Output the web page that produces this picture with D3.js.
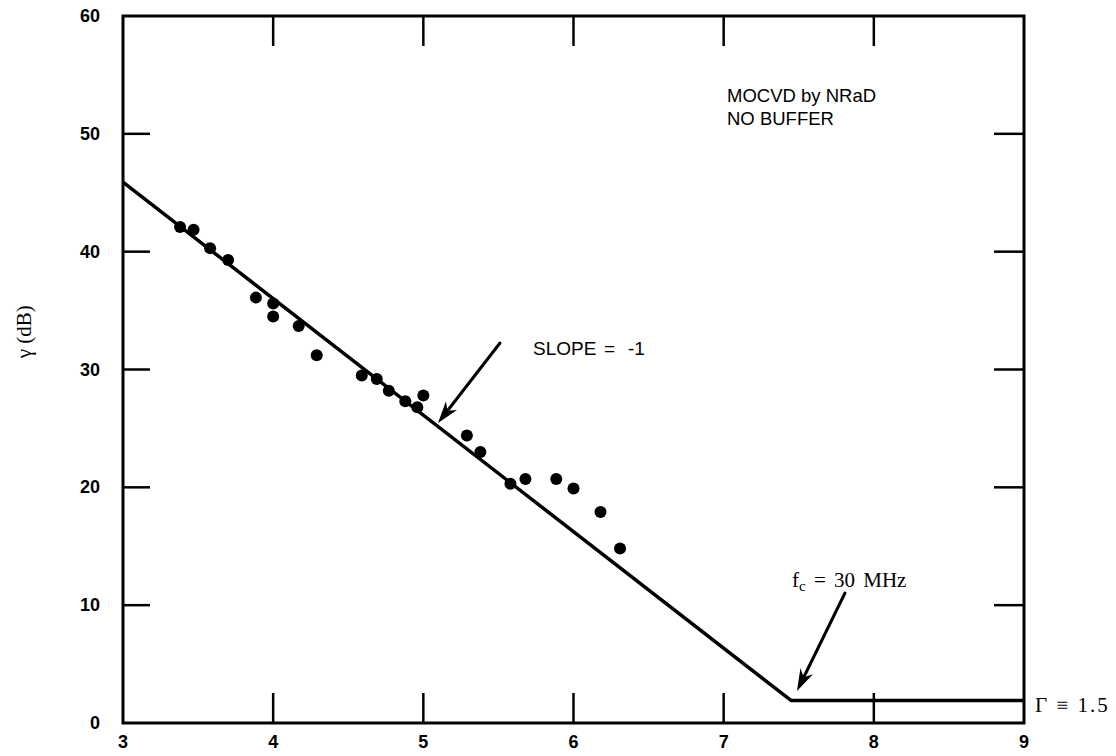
<!DOCTYPE html>
<html>
<head>
<meta charset="utf-8">
<script src="https://cdn.jsdelivr.net/npm/d3@7"></script>
<style>
  body { margin: 0; background: #fff; }
  svg { display: block; }
</style>
</head>
<body>
<svg id="chart"></svg>
<script>
// measured points (x, gamma dB)
const dataX = [3.38, 3.47, 3.58, 3.70, 3.885, 4.0, 4.0, 4.17, 4.29, 4.59, 4.69, 4.77, 4.88, 4.96, 5.0, 5.29, 5.38, 5.58, 5.68, 5.885, 6.0, 6.18, 6.31];
const dataY = [42.1, 41.85, 40.3, 39.3, 36.1, 35.6, 34.5, 33.7, 31.2, 29.5, 29.2, 28.2, 27.3, 26.8, 27.8, 24.4, 23.0, 20.3, 20.7, 20.7, 19.9, 17.9, 14.8];

// fitted line: slope segment then flat floor
const fitX = [3, 7.45, 9];
const fitY = [45.9, 1.9, 1.9];

const xTicks = [3, 4, 5, 6, 7, 8, 9];
const yTicks = [0, 10, 20, 30, 40, 50, 60];

const width = 1116, height = 756;
const margin = { top: 16, right: 92, bottom: 33, left: 123 };

const svg = d3.select("#chart")
  .attr("width", width)
  .attr("height", height);

const x = d3.scaleLinear().domain([3, 9]).range([margin.left, width - margin.right]);
const y = d3.scaleLinear().domain([0, 60]).range([height - margin.bottom, margin.top]);

const tickLen = 30;
const sans = "'Liberation Sans', Arial, sans-serif";
const serif = "'Liberation Serif', 'Times New Roman', serif";

// Frame
svg.append("rect")
  .attr("x", x(3)).attr("y", y(60))
  .attr("width", x(9) - x(3)).attr("height", y(0) - y(60))
  .attr("fill", "none").attr("stroke", "#000").attr("stroke-width", 3);

// Inner ticks on all four sides
const innerX = xTicks.filter(d => d > 3 && d < 9);
const innerY = yTicks.filter(d => d > 0 && d < 60);
const ticks = svg.append("g").attr("stroke", "#000").attr("stroke-width", 2.5);
ticks.selectAll(".tb").data(innerX).enter().append("line")
  .attr("x1", d => x(d)).attr("x2", d => x(d))
  .attr("y1", y(0)).attr("y2", y(0) - tickLen);
ticks.selectAll(".tt").data(innerX).enter().append("line")
  .attr("x1", d => x(d)).attr("x2", d => x(d))
  .attr("y1", y(60)).attr("y2", y(60) + tickLen);
ticks.selectAll(".tl").data(innerY).enter().append("line")
  .attr("x1", x(3)).attr("x2", x(3) + tickLen - 3)
  .attr("y1", d => y(d)).attr("y2", d => y(d));
ticks.selectAll(".tr").data(innerY).enter().append("line")
  .attr("x1", x(9)).attr("x2", x(9) - tickLen)
  .attr("y1", d => y(d)).attr("y2", d => y(d));

// Tick labels
svg.selectAll(".xl").data(xTicks).enter().append("text")
  .attr("x", d => x(d)).attr("y", y(0) + 25)
  .attr("text-anchor", "middle")
  .attr("font-family", sans).attr("font-weight", "bold").attr("font-size", 18)
  .text(d => d);
svg.selectAll(".yl").data(yTicks).enter().append("text")
  .attr("x", x(3) - 23).attr("y", d => y(d) + 6)
  .attr("text-anchor", "end")
  .attr("font-family", sans).attr("font-weight", "bold").attr("font-size", 18)
  .text(d => d);

// Y axis title
svg.append("text")
  .attr("transform", `translate(31, ${y(33.2)}) rotate(-90)`)
  .attr("text-anchor", "middle")
  .attr("font-family", serif).attr("font-size", 21)
  .text("γ (dB)");

// Fitted line
const fit = fitX.map((d, i) => [d, fitY[i]]);
svg.append("path")
  .datum(fit)
  .attr("d", d3.line().x(d => x(d[0])).y(d => y(d[1])))
  .attr("fill", "none").attr("stroke", "#000").attr("stroke-width", 3.5)
  .attr("stroke-linejoin", "miter");

// Data points
svg.selectAll(".pt").data(dataX.map((d, i) => [d, dataY[i]])).enter().append("circle")
  .attr("cx", d => x(d[0])).attr("cy", d => y(d[1]))
  .attr("r", 6).attr("fill", "#000");

// Arrows
const arrowHead = (x1, y1, x2, y2) => {
  const a = Math.atan2(y2 - y1, x2 - x1);
  const L = 22, W = 7;
  const bx = x2 - L * Math.cos(a), by = y2 - L * Math.sin(a);
  const nx = -Math.sin(a), ny = Math.cos(a);
  const mx = x2 - L * 0.7 * Math.cos(a), my = y2 - L * 0.7 * Math.sin(a);
  return `M${x2},${y2}L${bx + nx * W},${by + ny * W}L${mx},${my}L${bx - nx * W},${by - ny * W}Z`;
};
const drawArrow = (x1, y1, x2, y2) => {
  const a = Math.atan2(y2 - y1, x2 - x1);
  svg.append("line")
    .attr("x1", x1).attr("y1", y1)
    .attr("x2", x2 - 12 * Math.cos(a)).attr("y2", y2 - 12 * Math.sin(a))
    .attr("stroke", "#000").attr("stroke-width", 3).attr("stroke-linecap", "round");
  svg.append("path").attr("d", arrowHead(x1, y1, x2, y2)).attr("fill", "#000");
};
drawArrow(500, 343, 438, 423);
drawArrow(845, 593, 797, 691);

// Annotations
const note = svg.append("text")
  .attr("font-family", sans).attr("font-size", 18.5);
note.append("tspan").attr("x", 727).attr("y", 102).text("MOCVD by NRaD");
note.append("tspan").attr("x", 727).attr("y", 125).text("NO BUFFER");

const slope = svg.append("text")
  .attr("y", 355)
  .attr("font-family", sans).attr("font-size", 19);
slope.append("tspan").attr("x", 533).text("SLOPE");
slope.append("tspan").attr("x", 604).text("=");
slope.append("tspan").attr("x", 628).text("-1");

const fc = svg.append("text")
  .attr("x", 792).attr("y", 587)
  .attr("font-family", serif).attr("font-size", 21)
  .attr("word-spacing", 3);
fc.append("tspan").text("f");
fc.append("tspan").attr("font-size", 15).attr("dy", 4).text("c");
fc.append("tspan").attr("dy", -4).text(" = 30 MHz");

svg.append("text")
  .attr("x", 1035).attr("y", 712)
  .attr("font-family", serif).attr("font-size", 21)
  .attr("letter-spacing", 2)
  .text("Γ ≡ 1.5");
</script>
</body>
</html>
